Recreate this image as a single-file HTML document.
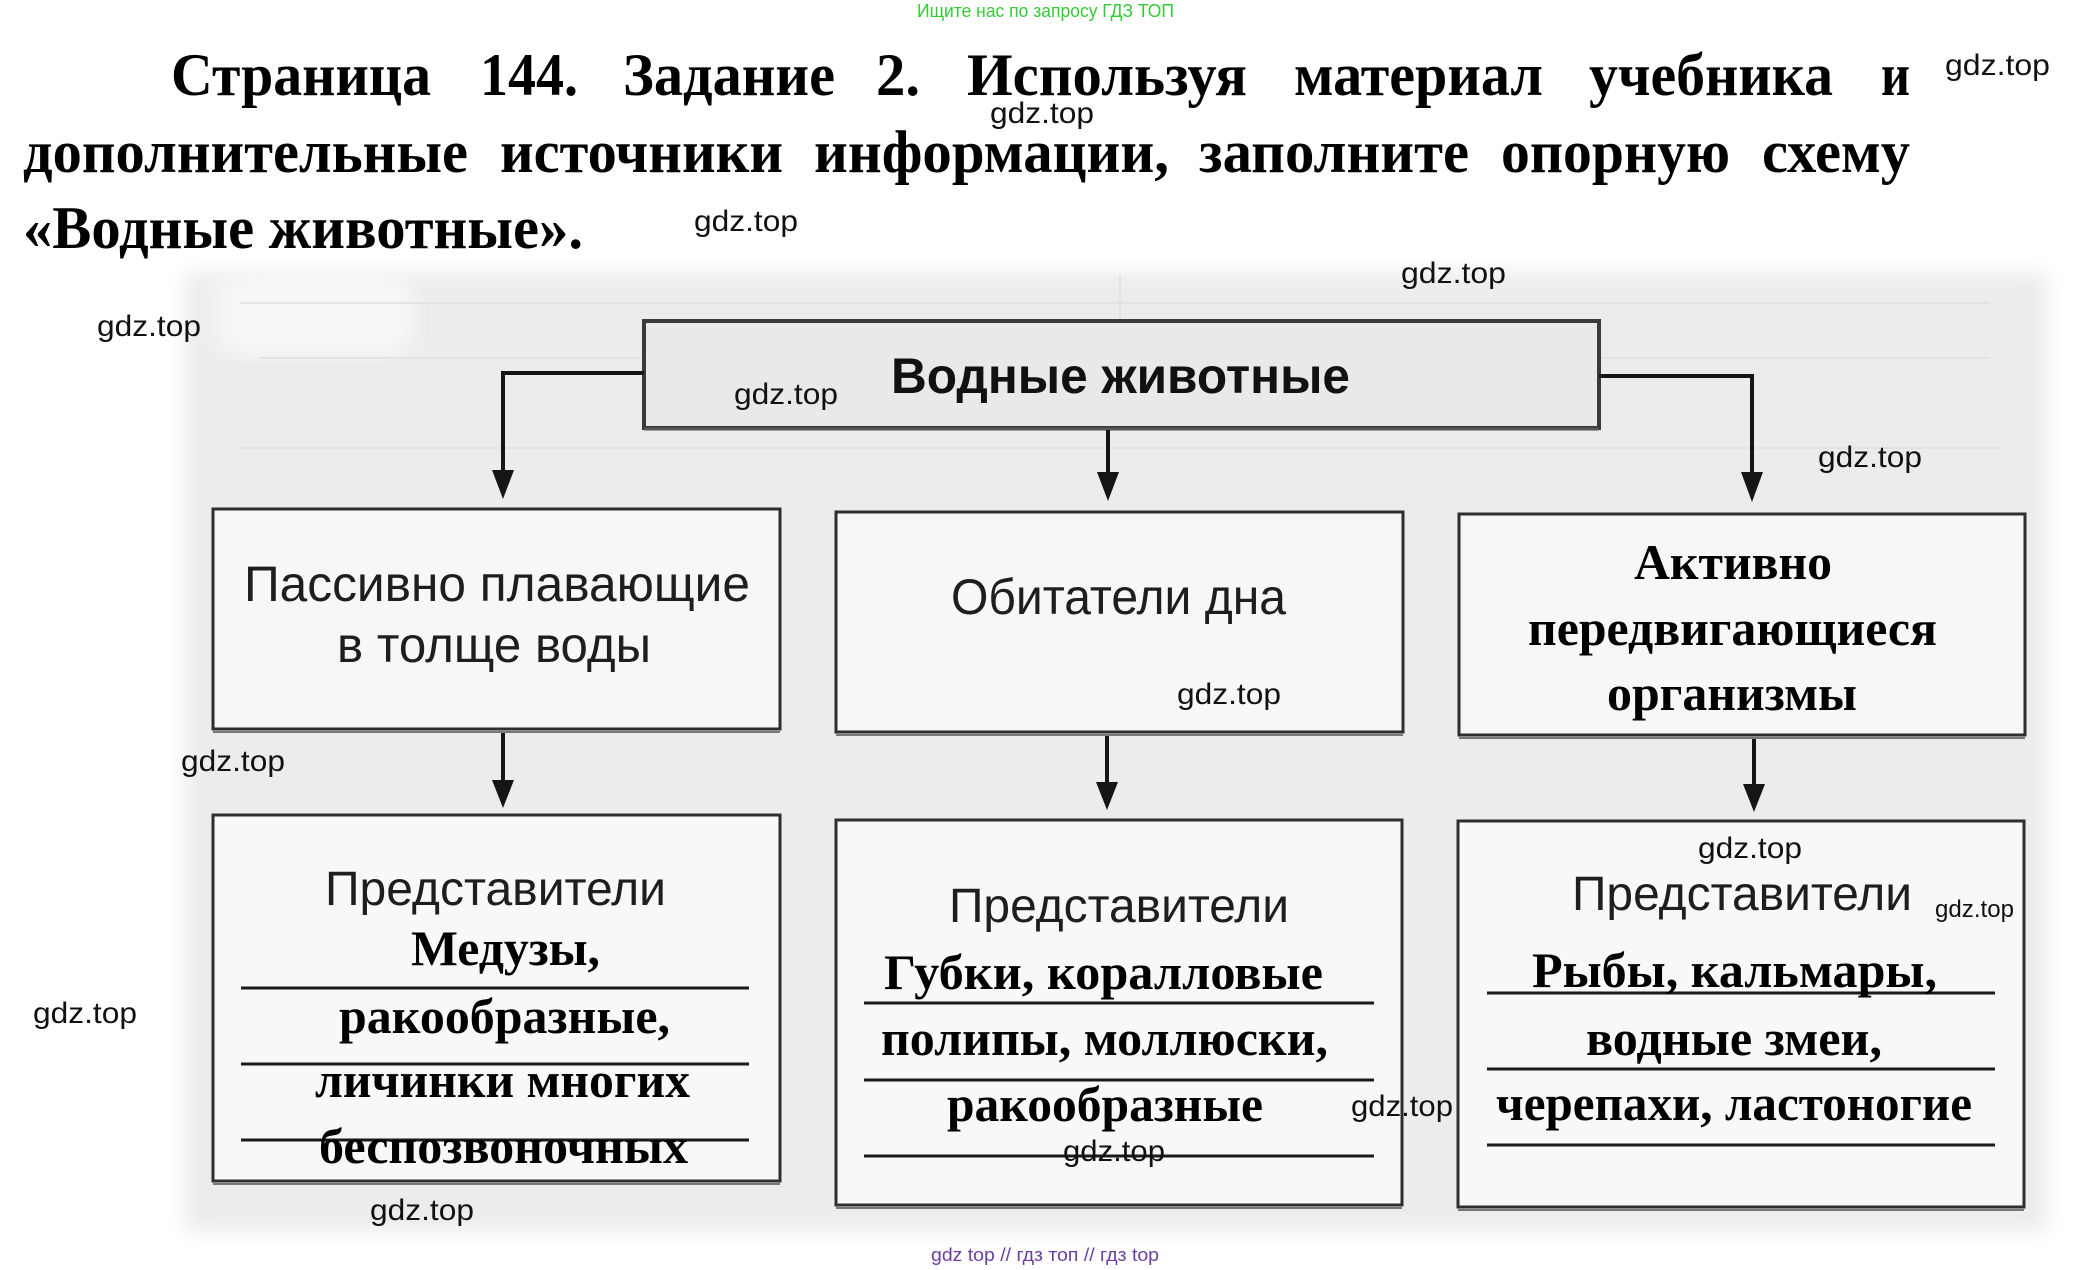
<!DOCTYPE html>
<html>
<head>
<meta charset="utf-8">
<style>
html,body{margin:0;padding:0;background:#fff;}
body{width:2092px;height:1270px;overflow:hidden;}
svg{display:block;}
.t{font-family:"Liberation Serif","Noto Serif CJK SC",serif;font-weight:bold;fill:#000;}
.s{font-family:"Liberation Sans","Noto Sans CJK SC",sans-serif;fill:#1e1e1e;}
.g{font-family:"Liberation Sans","Noto Sans CJK SC",sans-serif;fill:#111;font-size:30px;}
</style>
</head>
<body>
<svg width="2092" height="1270" viewBox="0 0 2092 1270" xmlns="http://www.w3.org/2000/svg">
<defs>
  <filter id="blur" x="-5%" y="-5%" width="110%" height="110%"><feGaussianBlur stdDeviation="10"/></filter>
</defs>
<rect x="0" y="0" width="2092" height="1270" fill="#fff"/>

<!-- gray photo background -->
<rect x="185" y="272" width="1862" height="960" fill="#ececec" filter="url(#blur)"/>
<rect x="215" y="272" width="200" height="85" rx="30" fill="#f7f7f7" filter="url(#blur)"/>
<g stroke="#e0e0e0" stroke-width="2" opacity="0.8">
  <line x1="240" y1="303" x2="1990" y2="303"/>
  <line x1="260" y1="358" x2="1990" y2="358"/>
  <line x1="240" y1="448" x2="2000" y2="448"/>
  <line x1="1120" y1="275" x2="1120" y2="330"/>
</g>

<!-- header -->
<text x="917" y="17" font-family="Liberation Sans, sans-serif" font-size="18" fill="#33cc33" textLength="257" lengthAdjust="spacingAndGlyphs">Ищите нас по запросу ГДЗ ТОП</text>

<!-- title -->
<g class="t" font-size="60">
  <text x="171" y="95" textLength="260" lengthAdjust="spacingAndGlyphs">Страница</text>
  <text x="480" y="95" textLength="98" lengthAdjust="spacingAndGlyphs">144.</text>
  <text x="623" y="95" textLength="212" lengthAdjust="spacingAndGlyphs">Задание</text>
  <text x="876" y="95" textLength="44" lengthAdjust="spacingAndGlyphs">2.</text>
  <text x="967" y="95" textLength="280" lengthAdjust="spacingAndGlyphs">Используя</text>
  <text x="1294" y="95" textLength="249" lengthAdjust="spacingAndGlyphs">материал</text>
  <text x="1589" y="95" textLength="244" lengthAdjust="spacingAndGlyphs">учебника</text>
  <text x="1881" y="95" textLength="29" lengthAdjust="spacingAndGlyphs">и</text>

  <text x="23" y="172" textLength="445" lengthAdjust="spacingAndGlyphs">дополнительные</text>
  <text x="500" y="172" textLength="283" lengthAdjust="spacingAndGlyphs">источники</text>
  <text x="814" y="172" textLength="355" lengthAdjust="spacingAndGlyphs">информации,</text>
  <text x="1199" y="172" textLength="270" lengthAdjust="spacingAndGlyphs">заполните</text>
  <text x="1501" y="172" textLength="229" lengthAdjust="spacingAndGlyphs">опорную</text>
  <text x="1762" y="172" textLength="148" lengthAdjust="spacingAndGlyphs">схему</text>

  <text x="23" y="248" textLength="560" lengthAdjust="spacingAndGlyphs">«Водные животные».</text>
</g>

<!-- top box -->
<rect x="644" y="321" width="955" height="107" fill="#e9e9e9" stroke="#3a3a3a" stroke-width="4"/>
<line x1="644" y1="429" x2="1599" y2="429" stroke="#555" stroke-width="3"/>
<text x="891" y="393" font-family="Liberation Sans, sans-serif" font-weight="bold" font-size="50" fill="#111" textLength="459" lengthAdjust="spacingAndGlyphs">Водные животные</text>

<!-- connectors -->
<g stroke="#151515" stroke-width="4" fill="none">
  <path d="M644 373 H503 V472"/>
  <path d="M1108 430 V474"/>
  <path d="M1599 376 H1752 V474"/>
  <path d="M503 731 V782"/>
  <path d="M1107 735 V784"/>
  <path d="M1754 737 V786"/>
</g>
<g fill="#151515">
  <polygon points="492,470 514,470 503,499"/>
  <polygon points="1097,472 1119,472 1108,501"/>
  <polygon points="1741,472 1763,472 1752,502"/>
  <polygon points="492,780 514,780 503,808"/>
  <polygon points="1096,782 1118,782 1107,810"/>
  <polygon points="1743,784 1765,784 1754,812"/>
</g>

<!-- row 1 boxes -->
<g fill="#f7f7f7" stroke="#2e2e2e" stroke-width="3">
  <rect x="213" y="509" width="567" height="220"/>
  <rect x="836" y="512" width="567" height="220"/>
  <rect x="1459" y="514" width="566" height="221"/>
</g>
<g stroke="#777" stroke-width="2">
  <line x1="213" y1="732" x2="780" y2="732"/>
  <line x1="836" y1="735" x2="1403" y2="735"/>
  <line x1="1459" y1="738" x2="2025" y2="738"/>
</g>
<g class="s" font-size="50">
  <text x="244" y="601" textLength="506" lengthAdjust="spacingAndGlyphs">Пассивно плавающие</text>
  <text x="337" y="662" textLength="314" lengthAdjust="spacingAndGlyphs">в толще воды</text>
  <text x="951" y="614" textLength="335" lengthAdjust="spacingAndGlyphs">Обитатели дна</text>
</g>
<g class="t" font-size="50">
  <text x="1634" y="579" textLength="198" lengthAdjust="spacingAndGlyphs">Активно</text>
  <text x="1528" y="645" textLength="409" lengthAdjust="spacingAndGlyphs">передвигающиеся</text>
  <text x="1607" y="710" textLength="250" lengthAdjust="spacingAndGlyphs">организмы</text>
</g>

<!-- row 2 boxes -->
<g fill="#f8f8f8" stroke="#2e2e2e" stroke-width="3">
  <rect x="213" y="815" width="567" height="366"/>
  <rect x="836" y="820" width="566" height="385"/>
  <rect x="1458" y="821" width="566" height="386"/>
</g>
<g stroke="#777" stroke-width="2">
  <line x1="213" y1="1184" x2="780" y2="1184"/>
  <line x1="836" y1="1208" x2="1402" y2="1208"/>
  <line x1="1458" y1="1210" x2="2024" y2="1210"/>
</g>
<!-- underline rules -->
<g stroke="#1a1a1a" stroke-width="3">
  <line x1="241" y1="988" x2="749" y2="988"/>
  <line x1="241" y1="1064" x2="749" y2="1064"/>
  <line x1="241" y1="1140" x2="749" y2="1140"/>
  <line x1="864" y1="1003" x2="1374" y2="1003"/>
  <line x1="864" y1="1080" x2="1374" y2="1080"/>
  <line x1="864" y1="1156" x2="1374" y2="1156"/>
  <line x1="1487" y1="993" x2="1995" y2="993"/>
  <line x1="1487" y1="1069" x2="1995" y2="1069"/>
  <line x1="1487" y1="1145" x2="1995" y2="1145"/>
</g>
<g class="s" font-size="48">
  <text x="325" y="905" textLength="341" lengthAdjust="spacingAndGlyphs">Представители</text>
  <text x="949" y="922" textLength="340" lengthAdjust="spacingAndGlyphs">Представители</text>
  <text x="1572" y="910" textLength="340" lengthAdjust="spacingAndGlyphs">Представители</text>
</g>
<g class="t" font-size="50">
  <text x="411" y="965" textLength="189" lengthAdjust="spacingAndGlyphs">Медузы,</text>
  <text x="339" y="1033" textLength="331" lengthAdjust="spacingAndGlyphs">ракообразные,</text>
  <text x="315" y="1097" textLength="375" lengthAdjust="spacingAndGlyphs">личинки многих</text>
  <text x="319" y="1163" textLength="369" lengthAdjust="spacingAndGlyphs">беспозвоночных</text>

  <text x="884" y="989" textLength="439" lengthAdjust="spacingAndGlyphs">Губки, коралловые</text>
  <text x="881" y="1055" textLength="447" lengthAdjust="spacingAndGlyphs">полипы, моллюски,</text>
  <text x="947" y="1121" textLength="316" lengthAdjust="spacingAndGlyphs">ракообразные</text>

  <text x="1532" y="987" textLength="405" lengthAdjust="spacingAndGlyphs">Рыбы, кальмары,</text>
  <text x="1586" y="1055" textLength="296" lengthAdjust="spacingAndGlyphs">водные змеи,</text>
  <text x="1496" y="1120" textLength="476" lengthAdjust="spacingAndGlyphs">черепахи, ластоногие</text>
</g>

<!-- watermarks -->
<g class="g">
  <text x="1945" y="75" textLength="105" lengthAdjust="spacingAndGlyphs">gdz.top</text>
  <text x="990" y="123" textLength="104" lengthAdjust="spacingAndGlyphs">gdz.top</text>
  <text x="694" y="231" textLength="104" lengthAdjust="spacingAndGlyphs">gdz.top</text>
  <text x="1401" y="283" textLength="105" lengthAdjust="spacingAndGlyphs">gdz.top</text>
  <text x="97" y="336" textLength="104" lengthAdjust="spacingAndGlyphs">gdz.top</text>
  <text x="734" y="404" textLength="104" lengthAdjust="spacingAndGlyphs">gdz.top</text>
  <text x="1818" y="467" textLength="104" lengthAdjust="spacingAndGlyphs">gdz.top</text>
  <text x="1177" y="704" textLength="104" lengthAdjust="spacingAndGlyphs">gdz.top</text>
  <text x="181" y="771" textLength="104" lengthAdjust="spacingAndGlyphs">gdz.top</text>
  <text x="33" y="1023" textLength="104" lengthAdjust="spacingAndGlyphs">gdz.top</text>
  <text x="1698" y="858" textLength="104" lengthAdjust="spacingAndGlyphs">gdz.top</text>
  <text x="1351" y="1116" textLength="102" lengthAdjust="spacingAndGlyphs">gdz.top</text>
  <text x="1063" y="1161" textLength="102" lengthAdjust="spacingAndGlyphs">gdz.top</text>
  <text x="370" y="1220" textLength="104" lengthAdjust="spacingAndGlyphs">gdz.top</text>
</g>
<text x="1935" y="917" font-family="Liberation Sans, sans-serif" font-size="24" fill="#111" textLength="79" lengthAdjust="spacingAndGlyphs">gdz.top</text>

<!-- footer -->
<text x="931" y="1261" font-family="Liberation Sans, sans-serif" font-size="18" fill="#6b3fa0" textLength="228" lengthAdjust="spacingAndGlyphs">gdz top  //  гдз топ  //  гдз top</text>
</svg>
</body>
</html>
